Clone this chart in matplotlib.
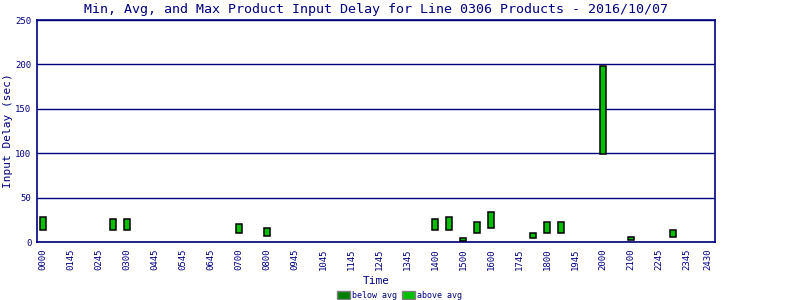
import matplotlib
matplotlib.use("Agg")
import matplotlib.pyplot as plt
from matplotlib.patches import Patch

# hour of day of each bar
times = [0.0, 2.5, 3.0, 7.0, 8.0, 14.0, 14.5, 15.0, 15.5, 16.0, 17.5, 18.0, 18.5, 20.0, 21.0, 22.5]
min_delay = [13, 13, 13, 10, 7, 13, 13, 1.5, 10.5, 16, 4, 10.5, 10.5, 99, 2.5, 6]
max_delay = [28, 25.5, 25.5, 20.5, 15.5, 26, 28, 4, 22, 33.5, 10, 22, 22, 198, 5.5, 13]

tick_pos = list(range(24)) + [23.75]
tick_labels = ["0000", "0145", "0245", "0300", "0445", "0545", "0645", "0700",
               "0800", "0945", "1045", "1145", "1245", "1345", "1400", "1500",
               "1600", "1745", "1800", "1945", "2000", "2100", "2245", "2345", "2430"]
y_ticks = [0, 50, 100, 150, 200, 250]

navy = "#000080"
plt.rcParams['font.family'] = ['DejaVu Sans Mono']

fig = plt.figure(figsize=(8, 3), dpi=100)
ax = fig.add_axes([37/800, 1-242/300, (715-37)/800, 222/300])

heights = [mx - mn for mn, mx in zip(min_delay, max_delay)]
ax.bar(times, heights, bottom=min_delay, width=0.21, color="#00c000",
       edgecolor="black", linewidth=1.1, zorder=3)

ax.set_xlim(-0.21, 24.0)
ax.set_ylim(0, 250)
ax.set_yticks(y_ticks)
ax.set_yticklabels([str(v) for v in y_ticks], fontsize=6.5, color=navy)
ax.set_xticks(tick_pos)
ax.set_xticklabels(tick_labels, rotation=90, fontsize=6.5, color=navy)
ax.tick_params(axis="x", length=0, pad=5)
ax.tick_params(axis="y", length=0, pad=4)
ax.yaxis.grid(True, color=navy, linewidth=1.0, zorder=1)
for s in ax.spines.values():
    s.set_color(navy)
    s.set_linewidth(1.2)

ax.set_title("Min, Avg, and Max Product Input Delay for Line 0306 Products - 2016/10/07",
             fontsize=9.6, color=navy, pad=5)
ax.set_xlabel("Time", fontsize=8, color=navy, labelpad=4)
ax.set_ylabel("Input Delay (sec)", fontsize=8, color=navy, labelpad=2)

handles = [Patch(facecolor="#008000", edgecolor="#808080", label="below avg"),
           Patch(facecolor="#00c000", edgecolor="#808080", label="above avg")]
fig.legend(handles=handles, loc="lower center", bbox_to_anchor=(0.5, -0.025), ncol=2,
           frameon=False, fontsize=6, handlelength=1.5, handleheight=1.0,
           handletextpad=0.3, columnspacing=0.6, labelcolor=navy)

fig.savefig("out.png", dpi=100)
